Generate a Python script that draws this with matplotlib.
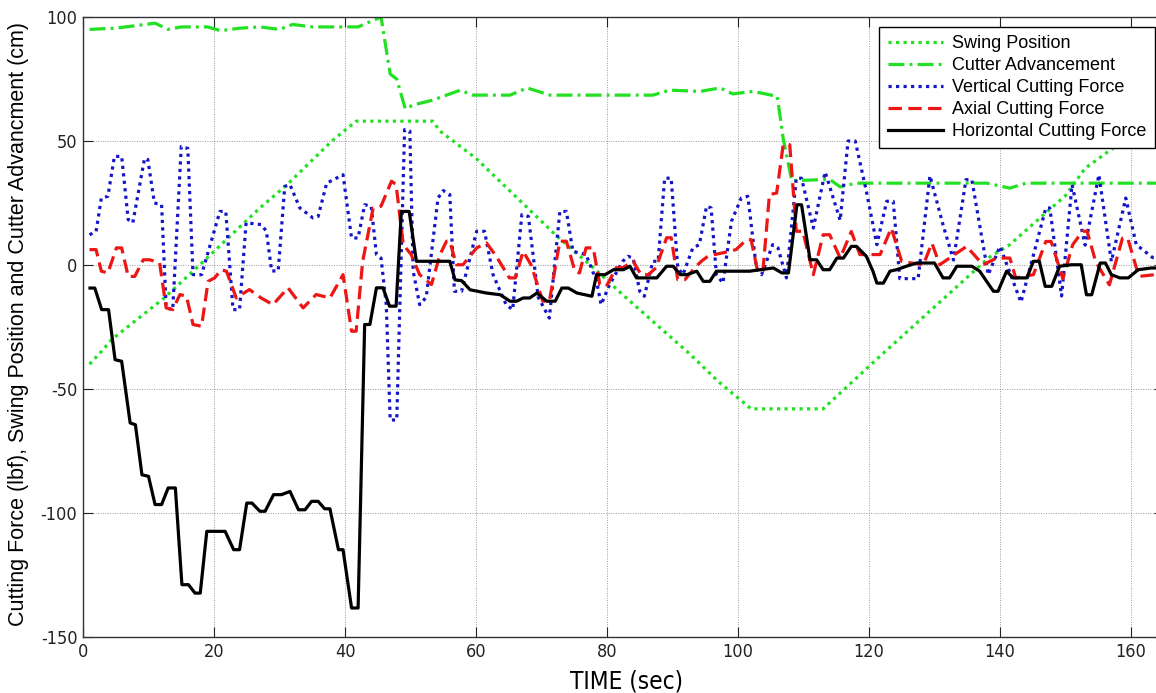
import matplotlib
matplotlib.use("Agg")
import matplotlib.pyplot as plt
from matplotlib import font_manager as fm

# ---------------- data ----------------
swing_t = [1, 2.6, 4.4, 12.3, 17, 27, 31, 38, 41.7, 53.4, 54.5, 60, 66.7, 72.2, 78.3, 82.4,
           92.7, 97, 102, 113, 122, 135.4, 138.3, 141.4, 150, 153, 157.7, 164.5]
swing_y = [-40, -35.5, -30, -13.5, -2, 23, 32, 50, 58, 58, 54, 43, 26, 12, -2, -12,
           -36, -47, -58, -58, -36, -4, 3, 8, 28, 39, 48, 60]

cutter_t = [1, 5, 11, 13, 15, 19, 21, 24, 27, 30, 32, 35, 42, 45.5, 46.9, 47.9, 49.2, 50.4,
            53.4, 57.6, 59.5, 65.2, 67.8, 71.3, 83.5, 87, 89.6, 94.2, 97.3, 99.2, 102.3, 106,
            106.9, 108.2, 114, 115.6, 118, 138, 141.5, 144, 164.5]
cutter_y = [95, 95.5, 97.5, 95, 96, 96, 94.5, 95.5, 96, 95, 97, 96, 96, 100, 77, 75, 63, 64.5,
            66.5, 70.5, 68.5, 68.5, 71.4, 68.5, 68.5, 68.5, 70.5, 70, 71.4, 69, 70, 68,
            51, 34, 34.5, 31.5, 33, 33, 31, 33, 33]

vert_t = [1, 2, 2.8, 3.8, 4.8, 5.9, 6.9, 7.6, 9.4, 9.9, 10.9, 12, 12.7, 13.7, 15, 16, 16.8,
          18.1, 20.9, 21.8, 22.9, 23.9, 24.9, 27.2, 28, 28.8, 29.8, 30.8, 31.6, 33.1, 35.1,
          35.9, 37.2, 39.7, 41, 42, 43, 44, 44.8, 45.5, 46.3, 46.9, 47.9, 49.1, 49.9, 50.4,
          51.4, 52.4, 54.2, 55, 56, 56.7, 57.8, 60.1, 61.3, 62.6, 64.6, 65.6, 67, 68, 69.5,
          71.2, 72.8, 73.8, 74.8, 76.8, 78.4, 79.1, 80.4, 82.4, 83.2, 84, 85, 85.7, 87, 87.8,
          88.8, 89.8, 90.8, 91.6, 93.1, 94.1, 95.2, 95.9, 96.7, 97.7, 99, 100.5, 101.5, 102.8,
          103.6, 105.3, 106.1, 107.4, 108.9, 109.7, 111.5, 113.3, 115.6, 116.8, 117.9, 119.6,
          121.2, 122.7, 123.7, 124.7, 127.5, 129.3, 131.3, 132.9, 134.8, 135.7, 138.2, 140,
          143.2, 147, 147.6, 149.4, 151, 153, 155.1, 157, 159.2, 160.8, 163.3, 164.5]
vert_y = [12.2, 13.5, 27, 27.7, 43.8, 43.8, 18.3, 17, 43, 42.5, 25, 24.3, -17.3, -18, 47.8, 47,
          -3.9, -3.9, 21.6, 21.6, -18, -18, 17, 16.3, 13.6, -2.4, -2.4, 31.7, 32.4, 23, 19,
          19.6, 33, 36.4, 10.9, 10.9, 24.3, 23.7, 4.2, 2.8, -16, -62.5, -62.5, 54.6, 54, -2.4,
          -16, -13, 27, 30, 28.4, -10.6, -10.6, 13.6, 13.6, -3.9, -16, -18, 20.3, 19.6, -13,
          -21.4, 21.6, 21.6, 5.5, 4.2, -6.5, -16, -7.9, 1.5, 3.5, 2.8, -10.6, -12.6, 1.5, 1.5,
          35, 35, -1.1, -3.9, 6.9, 8.2, 23.7, 23, -3.9, -7.3, 17.6, 27, 27.7, -1.1,
          -3.9, 8.2, 6.9, -5.2, 35, 35, 14.9, 37.5, 18, 50, 50, 29.7,
          8.2, 25.7, 25.7, -5.5, -5.5, 36, 16.2, 2, 34.4, 34.4, -3.9, 7.5,
          -15, 23, 23, -12.5, 32.4, 8, 36.4, 1.4, 27, 8.2, 3, 3]

axial_t = [1, 2, 2.8, 3.8, 5.1, 5.9, 6.9, 7.9, 9.2, 10.2, 11.7, 12.7, 13.7, 14.8, 15.8, 16.8,
           18.1, 19.1, 20.1, 21.1, 21.9, 23.4, 25.4, 27.2, 29, 31.3, 33.6, 35.6, 37.7, 39.7,
           41, 41.7, 42.7, 44.3, 45.5, 47.1, 47.8, 48.9, 50.1, 51.4, 53.2, 54.5, 55.5, 56, 57,
           58, 60.1, 61.6, 63.1, 65.1, 66, 67.2, 68.4, 70.2, 71.2, 72.8, 73.8, 75.1, 75.8,
           76.8, 77.9, 78.9, 79.9, 81.4, 82.4, 84, 85.2, 86.3, 87.5, 89.1, 89.8, 90.8, 91.9,
           93.4, 94.4, 95.4, 96.4, 97.7, 99.7, 101.3, 102, 103, 103.8, 104.8, 105.9, 106.9,
           107.9, 108.9, 109.9, 111.5, 113, 114, 115.6, 117.3, 118.6, 121.7, 123.4, 125, 128.3,
           129.6, 130.8, 134.9, 137.4, 139.5, 141.5, 142.4, 145.1, 147, 147.8, 149.6, 151.1,
           152.6, 153.3, 154.6, 156.7, 158.7, 159.5, 161.2, 163.3, 164.5]
axial_y = [6.2, 6.2, -2.5, -3.2, 6.9, 6.9, -4.6, -4.6, 2.1, 2.1, 0.8, -17.3, -18, -11.9, -12.6,
           -24, -24.7, -6.6, -5.2, -1.9, -2.5, -13.3, -9.9, -13.3, -16, -9.2, -17.3, -11.9,
           -13.3, -3.9, -26.7, -26.7, 1.5, 23, 23.7, 33.8, 32.4, 8.2, 4.2, -3.9, -7.9, 4.2,
           9.6, 9.6, 0.1, 0.1, 6.9, 8.9, 3.5, -5.2, -5.2, 5.5, 0.1, -14.6, -14.6, 9.6, 9.6,
           -2.5, -3.2, 6.9, 6.9, -7.9, -8.6, -1.1, -1.1, 1.5, -3.9, -3.9, -1.1, 11, 11, -5.9,
           -5.9, -1.1, 1.5, 3.5, 4.2, 4.9, 6.2, 10.2, 10.2, -2.5, -2.5, 28.4, 29, 48.5, 48.5,
           13.6, 13.6, -3.9, 12.2, 12.2, 2.8, 13.5, 4.2, 4.2, 14.9, 1.4, 0.1, 8.8, 0.1, 7.5,
           0.1, 2.8, 2.8, -5.2, -3.9, 9.5, 9.5, -5.5, 8.2, 13.6, 13.6, 1.4, -8, 10.8, 10.8,
           -4.6, -4, -4]

horiz_t = [1.07, 1.8, 2.85, 3.9, 4.9, 5.9, 7.2, 8, 9, 10, 11, 12, 13, 14.1, 15.1, 16.1, 17.1,
           17.9, 18.9, 21.7, 23, 23.9, 25, 25.8, 27, 27.8, 29.1, 30.3, 31.6, 32.9, 33.9, 34.9,
           35.9, 36.9, 37.7, 39, 39.7, 41, 42, 43, 43.8, 44.8, 45.8, 46.8, 47.8, 48.6, 49.8,
           50.9, 56, 56.8, 57.8, 59.1, 61.6, 63.7, 65.2, 66.2, 67.2, 68.2, 69.3, 70.8, 72.1,
           73.1, 74.1, 75.4, 77.7, 78.4, 79.7, 81, 82.5, 83.5, 84.5, 87.6, 89.1, 90.1, 91.2,
           92.2, 93.7, 94.7, 95.7, 96.7, 101.8, 103.4, 105.4, 106.7, 107.7, 109, 109.7, 111,
           112, 113, 114, 115.1, 116.1, 117.3, 118.1, 119.6, 120.6, 121.2, 122.2, 123.2, 124.2,
           125.7, 127.3, 130, 131.3, 132.3, 133.4, 135.7, 136.9, 139, 139.7, 141, 142, 144.1,
           145.1, 146, 146.9, 147.9, 149.1, 150.9, 152.4, 153.2, 154, 155.3, 156.1, 157, 158.3,
           159.6, 161.1, 163.1, 164.5]
horiz_y = [-9.3, -9.3, -18, -18, -38.2, -38.8, -63.7, -64.4, -84.6, -85.2, -96.6, -96.6, -89.9,
           -89.9, -128.9, -128.9, -132.3, -132.3, -107.4, -107.4, -114.8, -114.8, -96, -96,
           -99.3, -99.3, -92.6, -92.6, -91.3, -98.7, -98.7, -95.3, -95.3, -98.3, -98.3, -114.8,
           -114.8, -138.3, -138.3, -24, -24, -9.2, -9.2, -16.6, -16.6, 21.6, 21.6, 1.5, 1.5,
           -6, -6.3, -10, -11.3, -12, -14.6, -14.6, -13.3, -13.3, -11.3, -14.6, -14.6, -9.3,
           -9.3, -11.3, -12.6, -3.9, -3.9, -1.9, -1.9, -0.5, -5.2, -5.2, -0.5, -0.5, -3.9,
           -3.9, -2.5, -6.6, -6.6, -2.5, -2.5, -1.9, -1.2, -3.2, -3.2, 24.3, 24.3, 2.1, 2.1,
           -1.9, -1.9, 2.8, 2.8, 7.5, 7.5, 3.5, -2.5, -7.3, -7.3, -2.5, -1.9, -0.5, 0.8, 0.8,
           -5.2, -5.2, -0.5, -0.5, -2.5, -10.6, -10.6, -2.5, -5.2, -5.2, 1.5, 1.5, -8.6, -8.6,
           -0.5, 0.1, 0.1, -12, -12, 0.8, 0.8, -3.9, -5.2, -5.2, -1.9, -1.2, -1.2]

labels = ["Swing Position", "Cutter Advancement", "Vertical Cutting Force",
          "Axial Cutting Force", "Horizontal Cutting Force"]
x_ticks = [0, 20, 40, 60, 80, 100, 120, 140, 160]
y_ticks = [-150, -100, -50, 0, 50, 100]

# ---------------- fonts ----------------
plt.rcParams["font.family"] = ["Liberation Sans", "DejaVu Sans"]
plt.rcParams["axes.unicode_minus"] = False

ttf = fm.fontManager.ttflist
narrow_props = dict(family=["Liberation Sans", "DejaVu Sans"])
if any(f.name == "Liberation Sans Narrow" for f in ttf):
    narrow_props = dict(family=["Liberation Sans Narrow", "DejaVu Sans"])
elif any(f.name == "DejaVu Sans" and str(f.stretch) in ("condensed", "semi-condensed")
         for f in ttf):
    narrow_props = dict(family=["DejaVu Sans"], stretch="condensed")

W, H = 1156, 693
fig = plt.figure(figsize=(W / 100, H / 100), dpi=100)
x_left, y_top, y_bot = 83, 17, 637
xmax = 165
ax_w = xmax * 6.55
ax = fig.add_axes([x_left / W, (H - y_bot) / H, ax_w / W, (y_bot - y_top) / H])

lw = 2.3
green = "#22e022"
dots = (0, (1.0, 1.35))
ax.plot(swing_t, swing_y, color=green, lw=lw, linestyle=dots, label=labels[0])
ax.plot(cutter_t, cutter_y, color=green, lw=lw, linestyle=(0, (5, 1.6, 0.9, 1.6)),
        label=labels[1])
ax.plot(vert_t, vert_y, color="#1414c8", lw=lw, linestyle=dots, label=labels[2])
ax.plot(axial_t, axial_y, color="#ee1515", lw=lw, linestyle=(0, (4.2, 2.0)),
        label=labels[3])
ax.plot(horiz_t, horiz_y, color="black", lw=lw, label=labels[4])

ax.set_xlim(0, xmax)
ax.set_ylim(-150, 100)
ax.set_xticks(x_ticks)
ax.set_yticks(y_ticks)
ax.grid(True, linestyle=(0, (1, 1.5)), color="#999999", linewidth=0.7)
ax.tick_params(direction="in", length=7, width=0.8, top=True, right=True,
               labelsize=13, pad=4, colors="#222222")
for lab in ax.get_xticklabels() + ax.get_yticklabels():
    lab.set(**narrow_props)
for sp in ax.spines.values():
    sp.set_linewidth(1.0)
    sp.set_color("#333333")

ax.set_xlabel("TIME (sec)", fontsize=17.5, **narrow_props)
ax.xaxis.set_label_coords((627 - x_left) / ax_w, (y_bot - 669) / (y_bot - y_top))
ylab = ax.set_ylabel("Cutting Force (lbf), Swing Position and Cutter Advancment (cm)",
                     fontsize=15.5)
ax.yaxis.set_label_coords((29 - x_left) / ax_w, 0.505)

leg = ax.legend(loc="upper right", bbox_to_anchor=(1155 / W, (H - 27) / H),
                bbox_transform=fig.transFigure, fontsize=13, frameon=True,
                fancybox=False, framealpha=1, edgecolor="black", handlelength=3.1,
                handletextpad=0.5, labelspacing=0.28, borderpad=0.45, borderaxespad=0)
leg.get_frame().set_linewidth(1.0)

fig.savefig("out.png", dpi=100)
